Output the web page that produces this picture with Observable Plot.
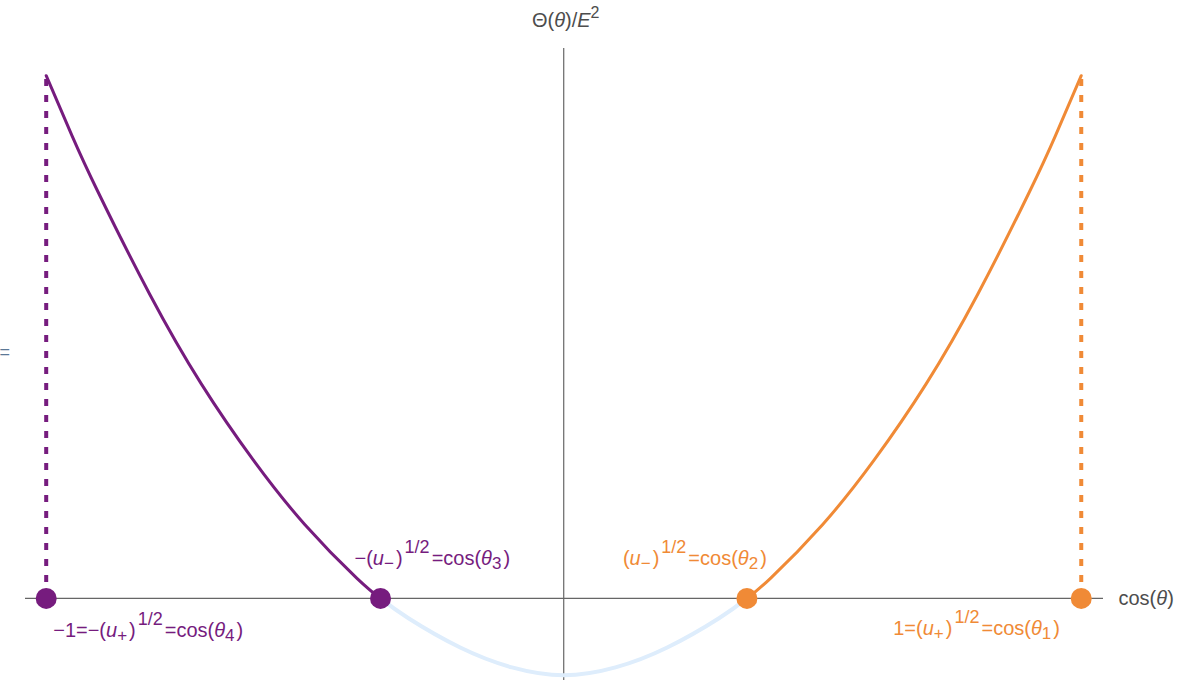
<!DOCTYPE html>
<html><head><meta charset="utf-8">
<script src="https://cdn.jsdelivr.net/npm/d3@7"></script>
<script src="https://cdn.jsdelivr.net/npm/@observablehq/plot@0.6"></script>
<style>body{margin:0;background:#fff} svg{display:block}</style>
</head><body><div id="chart"></div>
<script>
// ---- data ----
const purpleX = [-1.0, -0.95, -0.9, -0.8, -0.7, -0.6, -0.5, -0.4, -0.354];
const purpleY = [1.0, 0.885, 0.778, 0.582, 0.410, 0.265, 0.141, 0.039, 0];
const orangeX = [0.354, 0.4, 0.5, 0.6, 0.7, 0.8, 0.9, 0.95, 1.0];
const orangeY = [0, 0.039, 0.141, 0.265, 0.410, 0.582, 0.778, 0.885, 1.0];
const gapX = [-0.354, -0.3, -0.2, -0.1, 0, 0.1, 0.2, 0.3, 0.354];
const gapY = [0, -0.038, -0.094, -0.132, -0.147, -0.132, -0.094, -0.038, 0];
const turningX = [-1, -0.354, 0.354, 1];
const turningLabels = [
  "−1=−(u_{+})^{1/2}=cos(θ_{4})",
  "−(u_{−})^{1/2}=cos(θ_{3})",
  "(u_{−})^{1/2}=cos(θ_{2})",
  "1=(u_{+})^{1/2}=cos(θ_{1})"
];
const turningSide = ["purple", "purple", "orange", "orange"];
const boundaryX = [-1, 1];
const boundaryTop = 1.0;
const xAxisDomain = [-1.04, 1.043];
const yAxisDomain = [-0.157, 1.052];
const xAxisLabel = "cos(θ)";
const yAxisLabel = "Θ(θ)/E^{2}";

// ---- styling ----
const COL = {purple: "#761c7e", orange: "#f08a36", gap: "#deedfc", axis: "#666666", text: "#4d4d4d"};
const FONT = "'Liberation Sans', Arial, Helvetica, sans-serif";
const FS = 20;
const SUB_FS = 17;
const SUP_FS = 18;

const toPts = (xs, ys) => xs.map((x, i) => ({x, y: ys[i]}));
const purple = toPts(purpleX, purpleY);
const orange = toPts(orangeX, orangeY);
const gap = toPts(gapX, gapY);
const turning = turningX.map((x, i) => ({x, y: 0, label: turningLabels[i], side: turningSide[i]}));
const boundary = boundaryX.map((x, i) => ({x, y1: 0, y2: boundaryTop, side: i === 0 ? "purple" : "orange"}));
const labelOff = [[7, 39], [-26, -33], [-124, -33], [-188, 37]];

const chart = Plot.plot({
  width: 1198, height: 698,
  marginLeft: 25, marginRight: 95, marginTop: 48, marginBottom: 18,
  style: {fontFamily: FONT, background: "#fff"},
  x: {domain: xAxisDomain, axis: null},
  y: {domain: yAxisDomain, axis: null},
  marks: [
    Plot.ruleY([0], {stroke: COL.axis, strokeWidth: 1.2}),
    Plot.ruleX([0], {stroke: COL.axis, strokeWidth: 1.2}),
    Plot.line(gap, {x: "x", y: "y", stroke: COL.gap, strokeWidth: 4, curve: "natural"}),
    Plot.ruleX(boundary, {x: "x", y1: "y1", y2: "y2", stroke: d => COL[d.side], strokeWidth: 4, strokeDasharray: "7,9"}),
    Plot.line(purple, {x: "x", y: "y", stroke: COL.purple, strokeWidth: 3, curve: "natural"}),
    Plot.line(orange, {x: "x", y: "y", stroke: COL.orange, strokeWidth: 3, curve: "natural"}),
    Plot.dot(turning, {x: "x", y: "y", r: 10.5, fill: d => COL[d.side], stroke: "none"}),
    ...turning.map((d, i) => Plot.text([d], {
      x: "x", y: "y", text: "label", fill: COL[d.side], fontSize: FS,
      textAnchor: "start", lineAnchor: "bottom", dx: labelOff[i][0], dy: labelOff[i][1]
    })),
    Plot.text([{x: xAxisDomain[1], y: 0}], {x: "x", y: "y", text: () => xAxisLabel, fill: COL.text,
      fontSize: FS, textAnchor: "start", lineAnchor: "middle", dx: 15}),
    Plot.text([{x: 0, y: yAxisDomain[1]}], {x: "x", y: "y", text: () => yAxisLabel, fill: COL.text,
      fontSize: FS, textAnchor: "middle", lineAnchor: "bottom", dx: 2, dy: -22}),
    Plot.text(["="], {frameAnchor: "left", text: d => d, fill: "#5b7896", fontSize: 18, dx: -26, dy: -12, textAnchor: "start"})
  ]
});

// turn the _{..} / ^{..} markup into tspans with italic variables
const NS = "http://www.w3.org/2000/svg";
function mathify(el, src, isLabel) {
  while (el.firstChild) el.removeChild(el.firstChild);
  const parts = src.split(/(_\{[^}]*\}|\^\{[^}]*\})/).filter(s => s);
  let cur = 0, prev = "n";
  for (const p of parts) {
    let mode = "n", body = p;
    if (p.startsWith("_{")) { mode = "sub"; body = p.slice(2, -1); }
    else if (p.startsWith("^{")) { mode = "sup"; body = p.slice(2, -1); }
    const target = mode === "sub" ? 4 : mode === "sup" ? (isLabel ? -12 : -9) : 0;
    const size = mode === "n" ? FS : mode === "sub" ? SUB_FS : (isLabel ? SUP_FS : 16);
    let firstChunk = true;
    for (const c of body.split(/([uθE])/).filter(s => s)) {
      const t = document.createElementNS(NS, "tspan");
      t.textContent = c;
      t.setAttribute("font-size", size);
      if (/^[uθE]$/.test(c)) t.setAttribute("font-style", "italic");
      if (target !== cur) { t.setAttribute("dy", target - cur); cur = target; }
      if (isLabel && firstChunk && (mode === "sup" || prev !== "n")) t.setAttribute("dx", 2);
      firstChunk = false;
      el.appendChild(t);
    }
    prev = mode;
  }
}
chart.querySelectorAll("text").forEach(t => {
  const s = t.textContent;
  if (s !== "=") mathify(t, s, s.includes("_{"));
});
document.getElementById("chart").appendChild(chart);
</script></body></html>
